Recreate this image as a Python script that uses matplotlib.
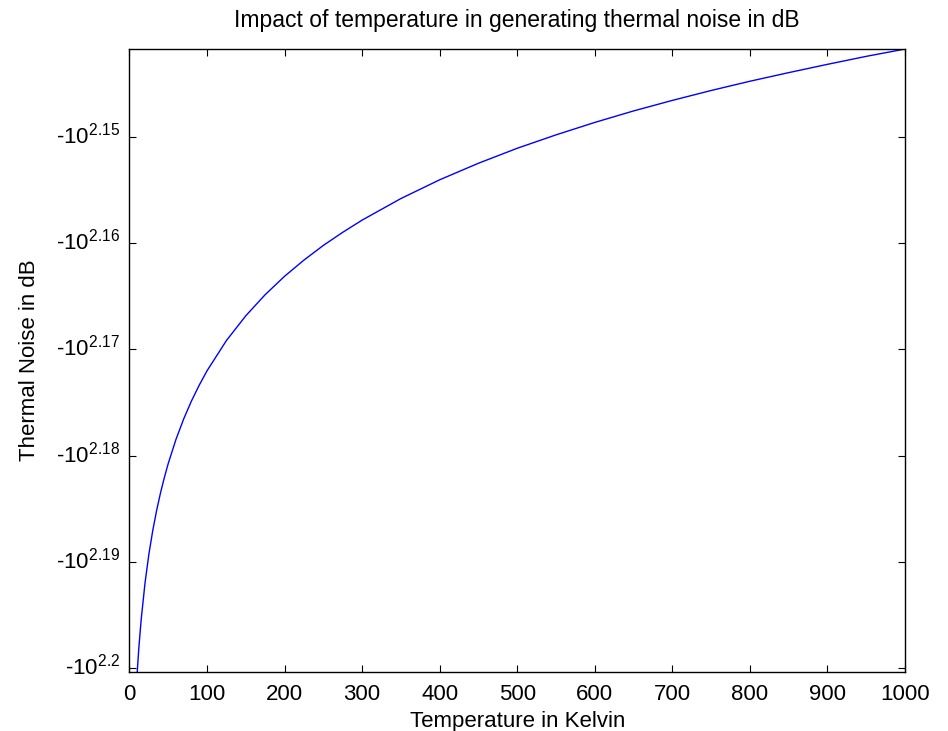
import numpy as np
import matplotlib
matplotlib.use('Agg')
import matplotlib.pyplot as plt
import matplotlib.transforms as mtransforms
from matplotlib.ticker import FixedLocator, FuncFormatter

plt.rcParams['font.family'] = ['Liberation Sans', 'DejaVu Sans']
plt.rcParams['mathtext.fontset'] = 'custom'
plt.rcParams['mathtext.rm'] = 'Liberation Sans'
plt.rcParams['mathtext.it'] = 'Liberation Sans'

# temperature (K) and thermal noise (dB)
temperature = [9, 10, 12, 15, 20, 25, 30, 35, 40, 45, 50, 60, 70, 80, 90,
               100, 125, 150, 175, 200, 225, 250, 275, 300, 350, 400, 450,
               500, 550, 600, 650, 700, 750, 800, 850, 900, 950, 1000]
noise_db = [-159.06, -158.60, -157.81, -156.84, -155.59, -154.62, -153.83,
            -153.16, -152.58, -152.07, -151.61, -150.82, -150.15, -149.57,
            -149.06, -148.60, -147.63, -146.84, -146.17, -145.59, -145.08,
            -144.62, -144.21, -143.83, -143.16, -142.58, -142.07, -141.61,
            -141.20, -140.82, -140.47, -140.15, -139.85, -139.57, -139.31,
            -139.06, -138.82, -138.60]
xticks = list(range(0, 1001, 100))
yexp = [2.15, 2.16, 2.17, 2.18, 2.19, 2.2]


def fwd(y):
    with np.errstate(all='ignore'):
        return -np.log10(-np.asarray(y, dtype=float))


def inv(u):
    return -10.0 ** (-np.asarray(u, dtype=float))


fig = plt.figure(figsize=(9.48, 7.31), dpi=100)
ax = fig.add_axes([0.1366, 0.0811, 0.818, 0.852])
ax.plot(temperature, noise_db, color='#0000ff', lw=1.0)

ax.set_yscale('function', functions=(fwd, inv))
ax.set_xlim(0, 1000)
ax.set_ylim(-10 ** 2.20032, -10 ** 2.14175)
ax.xaxis.set_major_locator(FixedLocator(xticks))
ax.yaxis.set_major_locator(FixedLocator([-10 ** e for e in yexp]))
ax.yaxis.set_minor_locator(FixedLocator([]))
ax.yaxis.set_major_formatter(FuncFormatter(
    lambda v, p: '-$\\mathregular{10^{%g}}$' % np.log10(-v)))
ax.tick_params(direction='in', top=True, right=True, length=5, width=0.8,
               labelsize=16)
ax.tick_params(axis='x', pad=9)
ax.tick_params(axis='y', pad=7)
for s in ax.spines.values():
    s.set_linewidth(1.0)

# nudge y tick labels up a little, like the reference
off = mtransforms.ScaledTranslation(0, 4 / 100, fig.dpi_scale_trans)
for lab in ax.get_yticklabels():
    lab.set_transform(lab.get_transform() + off)

ax.set_title('Impact of temperature in generating thermal noise in dB',
             fontsize=16.5, pad=16)
ax.set_xlabel('Temperature in Kelvin', fontsize=16, labelpad=4)
ax.set_ylabel('Thermal Noise in dB', fontsize=16, labelpad=11)

fig.savefig('out.png', dpi=100)
